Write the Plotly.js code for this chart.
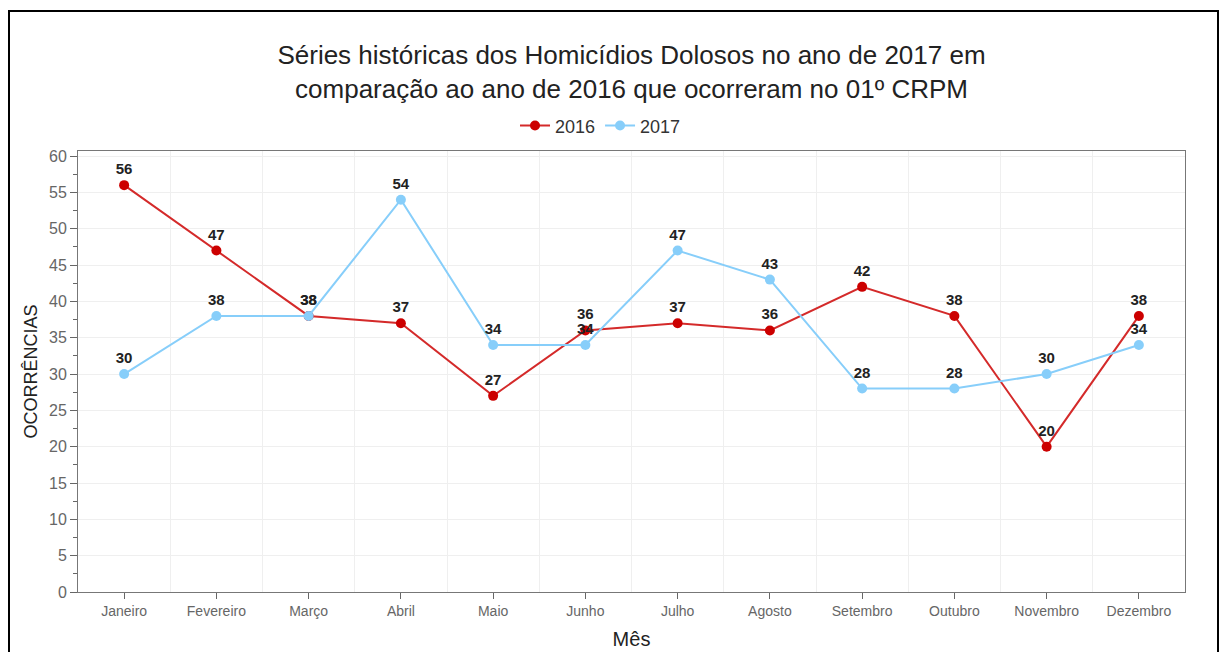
<!DOCTYPE html>
<html>
<head>
<meta charset="utf-8">
<script src="https://cdn.plot.ly/plotly-3.0.1.min.js"></script>
<style>
html,body{margin:0;padding:0;background:#fff;overflow:hidden;}
#chart{width:1221px;height:652px;}
#frame{position:absolute;left:8px;top:10px;width:1207px;height:700px;border:2px solid #000;pointer-events:none;}
</style>
</head>
<body>
<div id="chart"></div>
<div id="frame"></div>
<script>
const months = ["Janeiro","Fevereiro","Março","Abril","Maio","Junho","Julho","Agosto","Setembro","Outubro","Novembro","Dezembro"];
const values2016 = [56,47,38,37,27,36,37,36,42,38,20,38];
const values2017 = [30,38,38,54,34,34,47,43,28,28,30,34];
const seriesNames = ["2016","2017"];
const yTicks = [0,5,10,15,20,25,30,35,40,45,50,55,60];

const idx = months.map((m,i)=>i);
const FONT = "Liberation Sans, Arial, sans-serif";

function trace(name, vals, color, lineColor){
  return {
    x: idx, y: vals, name: name, type: 'scatter',
    mode: 'lines+markers+text',
    text: vals.map(String), textposition: 'top center',
    textfont: {family: FONT, size: 15, color: '#222', weight: 'bold'},
    line: {color: lineColor, width: 2},
    marker: {color: color, size: 10},
    hoverinfo: 'x+y'
  };
}

const data = [
  trace(seriesNames[0], values2016, '#cc0000', '#d42a2a'),
  trace(seriesNames[1], values2017, '#87cefa', '#87cefa')
];

const layout = {
  width: 1221, height: 652,
  margin: {l: 78, r: 36, t: 151, b: 60},
  paper_bgcolor: '#fff', plot_bgcolor: '#fff',
  font: {family: FONT, color: '#222'},
  title: {
    text: 'Séries históricas dos Homicídios Dolosos no ano de 2017 em<br>comparação ao ano de 2016 que ocorreram no 01º CRPM',
    font: {family: FONT, size: 26, color: '#222'},
    x: 0.5, xanchor: 'center', xref: 'paper',
    y: 0.902, yanchor: 'middle', yref: 'container'
  },
  showlegend: true,
  legend: {
    orientation: 'h', x: 0.472, xanchor: 'center', y: 1.057, yanchor: 'middle',
    font: {family: FONT, size: 18, color: '#333'},
    itemwidth: 30, tracegroupgap: 0
  },
  xaxis: {
    range: [-0.5, 11.5], tickmode: 'array', tickvals: idx, ticktext: months,
    ticks: 'outside', ticklen: 6, tickcolor: '#666', tickwidth: 1,
    tickfont: {family: FONT, size: 14, color: '#666'},
    showgrid: false, zeroline: false,
    showline: true, linecolor: '#777', linewidth: 1, mirror: true,
    minor: {tickmode: 'linear', tick0: -0.5, dtick: 1, showgrid: true, gridcolor: '#efefef', gridwidth: 1, ticks: ''},
    title: {text: 'Mês', font: {family: FONT, size: 20, color: '#222'}, standoff: 14}
  },
  yaxis: {
    range: [0, 60.7], tickmode: 'array', tickvals: yTicks,
    ticks: 'outside', ticklen: 7, tickcolor: '#666', tickwidth: 1,
    tickfont: {family: FONT, size: 16, color: '#666'},
    showgrid: true, gridcolor: '#efefef', gridwidth: 1, zeroline: false,
    showline: true, linecolor: '#777', linewidth: 1, mirror: true,
    minor: {tickmode: 'linear', tick0: 0, dtick: 2.5, ticks: 'outside', ticklen: 4, tickcolor: '#666', showgrid: false},
    title: {text: 'OCORRÊNCIAS', font: {family: FONT, size: 18, color: '#222'}, standoff: 6}
  }
};

Plotly.newPlot('chart', data, layout, {displayModeBar: false, responsive: false});
</script>
</body>
</html>
